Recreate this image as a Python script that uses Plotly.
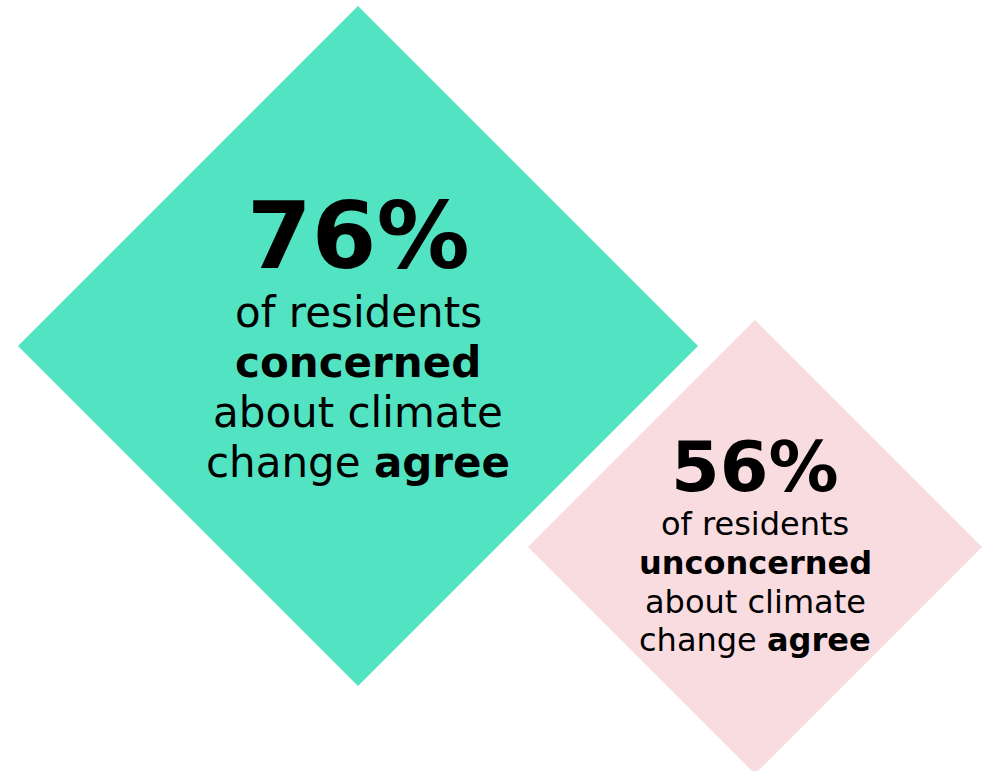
import plotly.graph_objects as go

# Survey results shown as two diamonds
groups = ["concerned", "unconcerned"]
percentages = [76, 56]
line_one = ["of residents", "of residents"]
line_three = ["about climate", "about climate"]
line_four_plain = ["change ", "change "]
line_four_bold = ["agree", "agree"]

W, H = 987, 771
FONT = "DejaVu Sans"

# layout of each diamond: centre x, centre y, half-diagonal, colour
diamonds = [
    dict(cx=358, cy=346, r=340, color="#52E3C2", big=93, body=42,
         big_y=236, body_y=[312, 362, 412, 462]),
    dict(cx=755, cy=547, r=227, color="#F8DCE0", big=70, body=32,
         big_y=467, body_y=[524, 563, 602, 640]),
]

fig = go.Figure()
annotations = []
for i, d in enumerate(diamonds):
    cx, cy, r = d["cx"], d["cy"], d["r"]
    fig.add_trace(go.Scatter(
        x=[cx, cx + r, cx, cx - r, cx],
        y=[cy - r, cy, cy + r, cy, cy - r],
        mode="lines", fill="toself", fillcolor=d["color"],
        line=dict(width=0, color=d["color"]), hoverinfo="skip",
        showlegend=False,
    ))
    annotations.append(dict(
        x=cx, y=d["big_y"], text=f"<b>{percentages[i]}%</b>",
        font=dict(family=FONT, size=d["big"], color="#000000"),
    ))
    lines = [
        line_one[i],
        f"<b>{groups[i]}</b>",
        line_three[i],
        f"{line_four_plain[i]}<b>{line_four_bold[i]}</b>",
    ]
    for txt, y in zip(lines, d["body_y"]):
        annotations.append(dict(
            x=cx, y=y, text=txt,
            font=dict(family=FONT, size=d["body"], color="#000000"),
        ))

for a in annotations:
    a.update(xref="x", yref="y", showarrow=False, xanchor="center", yanchor="middle")

fig.update_layout(
    width=W, height=H,
    margin=dict(l=0, r=0, t=0, b=0),
    paper_bgcolor="white", plot_bgcolor="white",
    xaxis=dict(range=[0, W], visible=False, fixedrange=True),
    yaxis=dict(range=[H, 0], visible=False, fixedrange=True),
    annotations=annotations,
)

fig.write_html("out.html", config={"displayModeBar": False})
